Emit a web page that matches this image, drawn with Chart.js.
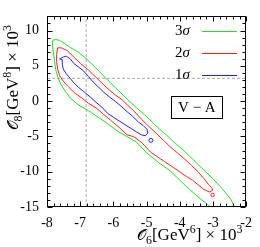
<!DOCTYPE html>
<html lang="en">
<head>
<meta charset="UTF-8">
<title>V-A contours</title>
<script src="https://cdn.jsdelivr.net/npm/chart.js"></script>
<style>
  html, body { margin: 0; padding: 0; background: #fff; }
</style>
</head>
<body>
<canvas id="chartVA" width="260" height="247"></canvas>
<script>
// axis ranges and ticks
const xRange = [-8, -2];
const yRange = [-15, 12];
const xTicks = [-8, -7, -6, -5, -4, -3, -2];
const yTicks = [-15, -10, -5, 0, 5, 10];

// best fit point (dashed cross)
const bestO6 = -6.82;
const bestO8 = 3.23;

const levelLabels = ['3σ', '2σ', '1σ'];
const levelColors = ['#1fe01f', '#ff2020', '#2020ff'];

// 3 sigma contour (runs out through the bottom axis, so left open)
const contour3 = [
  [-3.07, -15.0], [-3.42, -13.68], [-3.71, -12.50], [-4.00, -11.19], [-4.29, -9.88],
  [-4.64, -8.70], [-5.01, -7.26], [-5.30, -5.82], [-5.59, -5.03], [-5.88, -4.25],
  [-6.17, -3.20], [-6.46, -2.28], [-6.75, -1.36], [-7.04, -0.58], [-7.28, 0.34],
  [-7.45, 1.39], [-7.59, 2.44], [-7.68, 3.49], [-7.74, 4.53], [-7.77, 5.58],
  [-7.80, 6.63], [-7.83, 7.68], [-7.83, 8.60], [-7.74, 8.73], [-7.62, 8.60],
  [-7.48, 8.20], [-7.28, 7.55], [-7.04, 6.89], [-6.81, 5.98], [-6.61, 5.06],
  [-6.41, 4.14], [-6.17, 2.96], [-5.94, 1.91], [-5.71, 0.87], [-5.51, -0.05],
  [-5.30, -0.97], [-5.07, -1.89], [-4.84, -2.94], [-4.61, -3.98], [-4.38, -4.90],
  [-4.14, -5.95], [-3.91, -6.87], [-3.68, -7.92], [-3.45, -8.96], [-3.22, -10.01],
  [-2.99, -11.06], [-2.78, -12.11], [-2.61, -13.03], [-2.46, -13.94], [-2.35, -15.0]
];

// 2 sigma contour
const contour2 = [
  [-7.68, 7.55], [-7.57, 7.55], [-7.39, 7.16], [-7.19, 6.24], [-6.99, 5.32],
  [-6.75, 4.40], [-6.55, 3.49], [-6.35, 2.57], [-6.14, 1.65], [-5.94, 0.87],
  [-5.74, 0.21], [-5.57, -0.58], [-5.36, -1.49], [-5.16, -2.54], [-4.96, -3.46],
  [-4.72, -4.51], [-4.49, -5.56], [-4.29, -6.47], [-4.09, -7.26], [-3.86, -8.18],
  [-3.65, -9.10], [-3.45, -10.01], [-3.28, -10.93], [-3.13, -11.85], [-3.04, -12.24],
  [-3.01, -12.63], [-3.10, -12.89], [-3.28, -12.50], [-3.45, -11.85], [-3.62, -11.19],
  [-3.80, -10.67], [-4.00, -10.01], [-4.29, -9.10], [-4.58, -8.18], [-4.87, -7.26],
  [-5.16, -5.82], [-5.39, -5.03], [-5.59, -4.77], [-5.83, -3.72], [-6.06, -2.80],
  [-6.29, -1.89], [-6.52, -0.97], [-6.75, -0.31], [-6.96, 0.47], [-7.16, 1.13],
  [-7.36, 2.04], [-7.51, 2.83], [-7.62, 3.62], [-7.68, 4.53], [-7.71, 5.58],
  [-7.71, 6.63], [-7.68, 7.55]
];
const island2 = [[-3.01, -13.29]];

// 1 sigma contour
const contour1 = [
  [-7.62, 5.98], [-7.51, 6.24], [-7.42, 6.37], [-7.30, 5.98], [-7.19, 5.32],
  [-7.04, 4.80], [-6.90, 4.27], [-6.75, 3.49], [-6.61, 2.70], [-6.46, 2.04],
  [-6.29, 1.26], [-6.12, 0.60], [-5.94, -0.05], [-5.77, -0.71], [-5.59, -1.49],
  [-5.42, -2.15], [-5.25, -2.94], [-5.10, -3.46], [-4.99, -3.98], [-4.96, -4.51],
  [-5.04, -4.90], [-5.16, -4.77], [-5.30, -4.38], [-5.48, -3.85], [-5.65, -3.33],
  [-5.83, -2.80], [-6.00, -2.28], [-6.17, -1.75], [-6.35, -0.84], [-6.52, -0.18],
  [-6.70, 0.60], [-6.87, 1.26], [-7.04, 1.91], [-7.19, 2.57], [-7.30, 3.22],
  [-7.42, 3.88], [-7.51, 4.53], [-7.54, 5.19], [-7.54, 5.85], [-7.62, 5.98]
];
const island1 = [[-4.87, -5.56]];

const SERIF = '"Liberation Serif", "DejaVu Serif", serif';

function pts(arr) {
  return arr.map(p => ({ x: p[0], y: p[1] }));
}

function contourSet(arr, color) {
  return {
    data: pts(arr), showLine: true, fill: false, tension: 0,
    borderColor: color, borderWidth: 1, pointRadius: 0
  };
}

function islandSet(arr, color, r) {
  return {
    data: pts(arr), showLine: false,
    pointStyle: 'circle', pointRadius: r, borderWidth: 1,
    borderColor: color, backgroundColor: 'rgba(0,0,0,0)'
  };
}

function dashedSet(arr) {
  return {
    data: pts(arr), showLine: true, fill: false,
    borderColor: '#a8a8a8', borderWidth: 1, borderDash: [3, 2], pointRadius: 0
  };
}

// draws text made of pieces, some of them sub/superscript
function richText(ctx, parts, x, y, size) {
  let cx = x;
  parts.forEach(p => {
    const s = (p.s ? size * 0.7 : size) * (p.k || 1);
    ctx.font = (p.i ? 'italic ' : '') + s + 'px ' + SERIF;
    let dy = 0;
    if (p.s === 'sub') dy = size * 0.25;
    if (p.s === 'sup') dy = -size * 0.4;
    ctx.fillText(p.t, cx, y + dy);
    cx += ctx.measureText(p.t).width;
  });
  return cx - x;
}

function textWidth(ctx, parts, size) {
  let w = 0;
  parts.forEach(p => {
    const s = (p.s ? size * 0.7 : size) * (p.k || 1);
    ctx.font = (p.i ? 'italic ' : '') + s + 'px ' + SERIF;
    w += ctx.measureText(p.t).width;
  });
  return w;
}

const extras = {
  id: 'extras',
  afterDatasetsDraw(chart) {
    const { ctx, chartArea: a, scales: { x, y } } = chart;
    const L = Math.round(a.left) + 0.5, R = Math.round(a.right) - 0.5;
    const T = Math.round(a.top) + 0.5, B = Math.round(a.bottom) - 0.5;
    ctx.save();
    ctx.setLineDash([]);
    ctx.lineWidth = 1;
    ctx.strokeStyle = '#000';
    ctx.strokeRect(L, T, R - L, B - T);

    // inward ticks on all four sides
    ctx.beginPath();
    for (let i = 0; i <= 30; i++) {
      const v = xRange[0] + i * 0.2;
      const px = Math.round(x.getPixelForValue(v)) + 0.5;
      const len = i % 5 === 0 ? 5 : 3;
      ctx.moveTo(px, B); ctx.lineTo(px, B - len);
      ctx.moveTo(px, T); ctx.lineTo(px, T + len);
    }
    for (let v = yRange[0]; v <= yRange[1]; v++) {
      const py = Math.round(y.getPixelForValue(v)) + 0.5;
      const len = v % 5 === 0 ? 5 : 3;
      ctx.moveTo(L, py); ctx.lineTo(L + len, py);
      ctx.moveTo(R, py); ctx.lineTo(R - len, py);
    }
    ctx.stroke();

    // legend
    ctx.textBaseline = 'middle';
    levelLabels.forEach((lab, k) => {
      const py = a.top + 15 + k * 22;
      const parts = [{ t: lab[0] }, { t: lab.slice(1), i: true }];
      const w = textWidth(ctx, parts, 15);
      ctx.fillStyle = '#000';
      richText(ctx, parts, a.left + 143 - w, py, 15);
      ctx.fillStyle = levelColors[k];
      ctx.fillRect(Math.round(a.left + 155), Math.round(py), 35, 1);
    });

    // V - A box
    const bx = x.getPixelForValue(-3.5), by = y.getPixelForValue(-0.9);
    ctx.fillStyle = '#fff';
    ctx.fillRect(Math.round(bx - 25) + 0.5, Math.round(by - 11) + 0.5, 51, 22);
    ctx.strokeStyle = '#000';
    ctx.strokeRect(Math.round(bx - 25) + 0.5, Math.round(by - 11) + 0.5, 51, 22);
    ctx.fillStyle = '#000';
    ctx.font = '15px ' + SERIF;
    ctx.textAlign = 'center';
    ctx.fillText('V − A', bx + 0.5, by + 1);
    ctx.textAlign = 'left';

    // axis titles
    ctx.textBaseline = 'alphabetic';
    const xTitle = [{ t: '𝒪', k: 0.9 }, { t: '6', s: 'sub' }, { t: '[GeV' }, { t: '6', s: 'sup' },
      { t: '] × 10' }, { t: '3', s: 'sup' }];
    richText(ctx, xTitle, a.left + 90, a.bottom + 33, 17);

    const yTitle = [{ t: '𝒪', k: 0.9 }, { t: '8', s: 'sub' }, { t: '[GeV' }, { t: '8', s: 'sup' },
      { t: '] × 10' }, { t: '3', s: 'sup' }];
    ctx.translate(18, a.top + 114);
    ctx.rotate(-Math.PI / 2);
    richText(ctx, yTitle, 0, 0, 17);
    ctx.restore();
  }
};

const ctx = document.getElementById('chartVA').getContext('2d');
new Chart(ctx, {
  type: 'scatter',
  data: {
    datasets: [
      contourSet(contour1, levelColors[2]),
      islandSet(island1, levelColors[2], 2),
      contourSet(contour2, levelColors[1]),
      islandSet(island2, levelColors[1], 1.7),
      contourSet(contour3, levelColors[0]),
      dashedSet([[bestO6, yRange[0]], [bestO6, yRange[1]]]),
      dashedSet([[xRange[0], bestO8], [xRange[1], bestO8]])
    ]
  },
  options: {
    responsive: false,
    animation: false,
    layout: { padding: { top: 1, right: 6, left: 0, bottom: 0 } },
    plugins: { legend: { display: false }, tooltip: { enabled: false } },
    scales: {
      x: {
        type: 'linear', min: xRange[0], max: xRange[1],
        grid: { display: false, drawTicks: false }, border: { display: false },
        afterBuildTicks: s => { s.ticks = xTicks.map(v => ({ value: v })); },
        afterFit: s => { s.height = 40; },
        ticks: { color: '#000', padding: 8, maxRotation: 0, autoSkip: false,
          font: { family: SERIF, size: 14 } }
      },
      y: {
        type: 'linear', min: yRange[0], max: yRange[1],
        grid: { display: false, drawTicks: false }, border: { display: false },
        afterBuildTicks: s => { s.ticks = yTicks.map(v => ({ value: v })); },
        afterFit: s => { s.width = 47; },
        ticks: { color: '#000', padding: 8, autoSkip: false,
          font: { family: SERIF, size: 14 } }
      }
    }
  },
  plugins: [extras]
});
</script>
</body>
</html>
